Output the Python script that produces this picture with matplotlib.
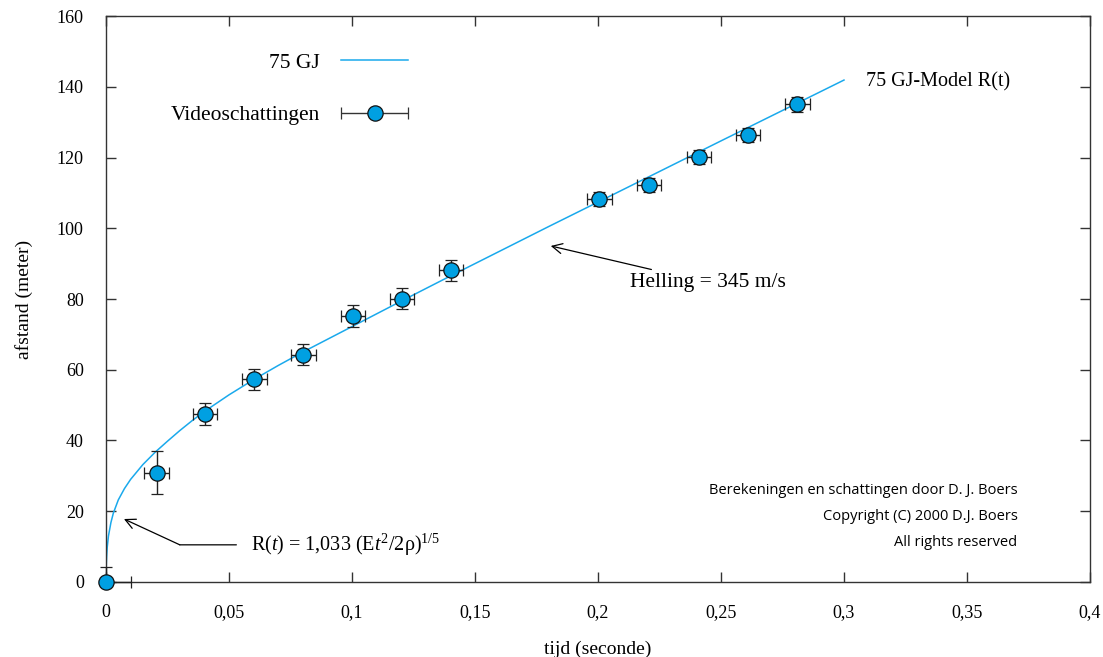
import numpy as np
import matplotlib
matplotlib.use('Agg')
import matplotlib.pyplot as plt
from matplotlib.container import ErrorbarContainer
from matplotlib.legend_handler import HandlerErrorbar

plt.rcParams['font.family'] = ['Liberation Serif', 'DejaVu Serif']
plt.rcParams['mathtext.fontset'] = 'custom'
plt.rcParams['mathtext.rm'] = 'Liberation Serif'
plt.rcParams['mathtext.it'] = 'Liberation Serif:italic'

model_t = [0, 0.0001, 0.00025, 0.0005, 0.001, 0.002, 0.003, 0.005, 0.0075,
           0.01, 0.015, 0.02, 0.025, 0.03, 0.035, 0.04, 0.05, 0.06, 0.07,
           0.08, 0.09, 0.1, 0.12, 0.14, 0.16, 0.18, 0.2, 0.25, 0.3]
model_r = [0, 4.5, 7, 9.8, 13, 16.8, 19.5, 23.2, 26.4,
           29, 33.2, 36.7, 39.8, 42.8, 45.6, 48.2, 52.9, 57.2, 61.2,
           65, 68.6, 72.2, 79.4, 86.5, 93.5, 100.5, 107.4, 124.7, 141.9]

# Videoschattingen met foutmarges
video_t = [0, 0.0206, 0.0402, 0.0603, 0.0802, 0.1004, 0.1204, 0.1403,
           0.2005, 0.2207, 0.241, 0.261, 0.281]
video_r = [0, 30.9, 47.5, 57.3, 64.2, 75.2, 80.1, 88.1,
           108.3, 112.3, 120.2, 126.3, 135.0]
t_err_lo = [0] + [0.005] * 12
t_err_hi = [0.01] + [0.005] * 12
r_err_lo = [0, 6, 3, 3, 3, 3, 3, 3, 2, 2, 2, 2, 2]
r_err_hi = [4.3, 6, 3, 3, 3, 3, 3, 3, 2, 2, 2, 2, 2]

x_ticks = [0, 0.05, 0.1, 0.15, 0.2, 0.25, 0.3, 0.35, 0.4]
x_labels = ['0', '0,05', '0,1', '0,15', '0,2', '0,25', '0,3', '0,35', '0,4']
y_ticks = [0, 20, 40, 60, 80, 100, 120, 140, 160]

blauw = '#00a0e2'

fig, ax = plt.subplots(figsize=(11.03, 6.57), dpi=100)
fig.subplots_adjust(left=0.0961, right=0.9882, top=0.9756, bottom=0.1142)

lijn, = ax.plot(model_t, model_r, color='#1aa9ec', lw=1.1, label='75 GJ')

eb = ax.errorbar(video_t, video_r,
                 xerr=[t_err_lo, t_err_hi], yerr=[r_err_lo, r_err_hi],
                 fmt='o', ms=11, mfc=blauw, mec='#111111', mew=0.9,
                 ecolor='#222222', elinewidth=1, capsize=4.5, capthick=1,
                 label='Videoschattingen', zorder=3, clip_on=False)
for art in eb.lines[1] + eb.lines[2]:
    art.set_clip_on(False)

ax.set_xlim(0, 0.4)
ax.set_ylim(0, 160)
ax.set_xticks(x_ticks)
ax.set_xticklabels(x_labels)
ax.set_yticks(y_ticks)
ax.tick_params(direction='in', top=True, right=True, length=7, width=1,
               labelsize=13, pad=16, color='#333333')
for s in ax.spines.values():
    s.set_color('#333333')
    s.set_linewidth(1)

ax.set_xlabel('tijd (seconde)', fontsize=14, labelpad=14)
ax.set_ylabel('afstand (meter)', fontsize=14, labelpad=17)

# legenda: tekst rechts uitgelijnd, symbool rechts
proxy = ax.errorbar([np.nan], [np.nan], xerr=[1], fmt='o', ms=11, mfc=blauw,
                    mec='#111111', mew=0.9, ecolor='#333333', elinewidth=1,
                    capsize=4.5, label='_nolegend_')
ax.legend([lijn, proxy], ['75 GJ', 'Videoschattingen'],
          handler_map={ErrorbarContainer: HandlerErrorbar(xerr_size=1.55)},
          markerfirst=False, frameon=False, fontsize=15.5, handlelength=3.1,
          handletextpad=1.0, labelspacing=1.5, numpoints=1,
          loc='upper right', bbox_to_anchor=(0.307, 0.935), borderaxespad=0, borderpad=0)

ax.text(0.309, 141.4, '75 GJ-Model R(t)', fontsize=14.5, va='center', ha='left')

ax.annotate('Helling = 345 m/s', xy=(0.1808, 95), xytext=(0.213, 84.6),
            fontsize=15.5, va='center', ha='left',
            arrowprops=dict(arrowstyle='->', color='black', lw=0.9,
                            mutation_scale=18, shrinkA=3, shrinkB=0))

ax.text(0.059, 10.5, r'R($t$) = 1,033 (E$t^2$/2ρ)$^{1/5}$', fontsize=14.5,
        va='center', ha='left')
ax.annotate('', xy=(0.0073, 17.8), xytext=(0.030, 10.5),
            arrowprops=dict(arrowstyle='->', color='black', lw=0.9,
                            mutation_scale=18, shrinkA=0, shrinkB=0))
ax.annotate('', xy=(0.030, 10.5), xytext=(0.053, 10.5),
            arrowprops=dict(arrowstyle='-', color='black', lw=0.9,
                            shrinkA=0, shrinkB=0))

for y, regel in zip([26, 18.4, 11.3],
                    ['Berekeningen en schattingen door D. J. Boers',
                     'Copyright (C) 2000 D.J. Boers',
                     'All rights reserved']):
    ax.text(0.3705, y, regel, fontsize=10.5, family='Open Sans',
            ha='right', va='center')

fig.savefig('out.png', dpi=100)
